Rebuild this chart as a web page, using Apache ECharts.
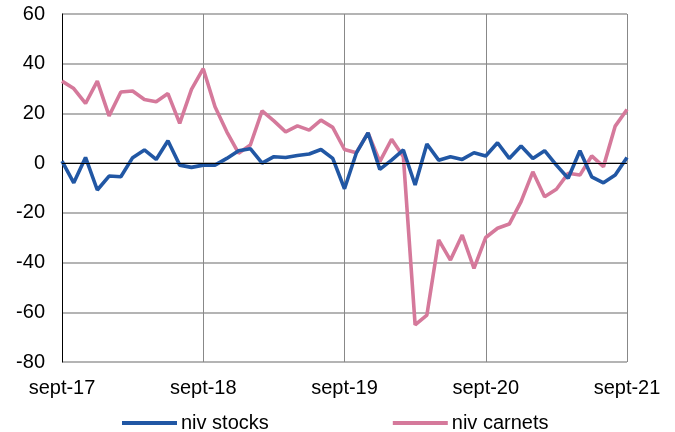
<!DOCTYPE html>
<html>
<head>
<meta charset="utf-8">
<script src="https://cdn.jsdelivr.net/npm/echarts@6/dist/echarts.min.js"></script>
<style>html,body{margin:0;padding:0;background:#fff}#c{width:675px;height:432px}</style>
</head>
<body>
<div id="c"></div>
<script>
var categories = [
  "sept-17","oct-17","nov-17","déc-17","janv-18","févr-18","mars-18","avr-18","mai-18","juin-18","juil-18","août-18",
  "sept-18","oct-18","nov-18","déc-18","janv-19","févr-19","mars-19","avr-19","mai-19","juin-19","juil-19","août-19",
  "sept-19","oct-19","nov-19","déc-19","janv-20","févr-20","mars-20","avr-20","mai-20","juin-20","juil-20","août-20",
  "sept-20","oct-20","nov-20","déc-20","janv-21","févr-21","mars-21","avr-21","mai-21","juin-21","juil-21","août-21",
  "sept-21"
];
var nivStocks = [
  0.8,-7.9,2.3,-10.8,-5.2,-5.5,2.2,5.3,1.5,9.0,-0.8,-1.7,
  -0.8,-0.8,1.9,5.0,5.8,0.0,2.6,2.3,3.1,3.7,5.5,1.9,
  -10.3,4.0,12.2,-2.5,1.2,5.3,-8.8,7.7,1.2,2.6,1.5,4.2,
  2.9,8.2,1.9,6.9,1.9,5.0,-0.8,-6.1,5.0,-5.5,-7.9,-4.8,
  2.3
];
var nivCarnets = [
  33.0,30.0,24.0,33.0,19.0,28.6,29.0,25.6,24.7,28.0,16.0,29.7,
  38.0,22.7,12.6,4.0,7.3,21.0,17.0,12.6,15.0,13.3,17.3,14.4,
  5.5,4.2,12.2,0.6,9.6,2.6,-65.1,-61.1,-30.9,-39.0,-28.9,-42.3,
  -29.9,-26.2,-24.5,-15.5,-3.5,-13.5,-10.5,-4.1,-4.8,2.9,-1.4,14.9,
  21.6
];
var yTicks = { min: -80, max: 60, interval: 20 };
var seriesNames = ["niv stocks", "niv carnets"];
var colors = ["#2157a4", "#d5799b"];

var yearIdx = function (i) { return i % 12 === 0; };
var font = 'Liberation Sans, Arial, sans-serif';
var chart = echarts.init(document.getElementById('c'));
chart.setOption({
  animation: false,
  color: colors,
  grid: { left: 62, right: 48, top: 14, bottom: 70, containLabel: false },
  xAxis: {
    type: 'category',
    data: categories,
    boundaryGap: false,
    axisLine: { show: false },
    axisTick: { show: false },
    axisLabel: {
      interval: function (i) { return yearIdx(i); },
      color: '#000', fontFamily: font, fontSize: 20, margin: 16
    },
    splitLine: { show: true, interval: function (i) { return yearIdx(i); }, lineStyle: { color: '#888', width: 1 } }
  },
  yAxis: {
    type: 'value',
    min: yTicks.min, max: yTicks.max, interval: yTicks.interval,
    axisLine: { show: true, lineStyle: { color: '#000', width: 1 } },
    axisTick: { show: false },
    axisLabel: { color: '#000', fontFamily: font, fontSize: 20, margin: 17 },
    splitLine: { show: true, lineStyle: { color: '#b4b4b4', width: 2 } }
  },
  legend: {
    top: 413, left: 122, padding: 0,
    itemGap: 124, itemWidth: 55, itemHeight: 4,
    icon: 'rect',
    textStyle: { color: '#000', fontFamily: font, fontSize: 20, padding: [0,0,0,-1] },
    data: seriesNames
  },
  series: [
    {
      name: seriesNames[0], type: 'line', data: nivStocks, showSymbol: false, symbol: 'none',
      lineStyle: { width: 3.6, color: colors[0] }, z: 3,
      markLine: {
        silent: true, symbol: 'none', label: { show: false },
        lineStyle: { color: '#000', width: 1, type: 'solid' },
        data: [{ yAxis: 0 }]
      }
    },
    {
      name: seriesNames[1], type: 'line', data: nivCarnets, showSymbol: false, symbol: 'none',
      lineStyle: { width: 3.6, color: colors[1] }, z: 2
    }
  ]
});
</script>
</body>
</html>
